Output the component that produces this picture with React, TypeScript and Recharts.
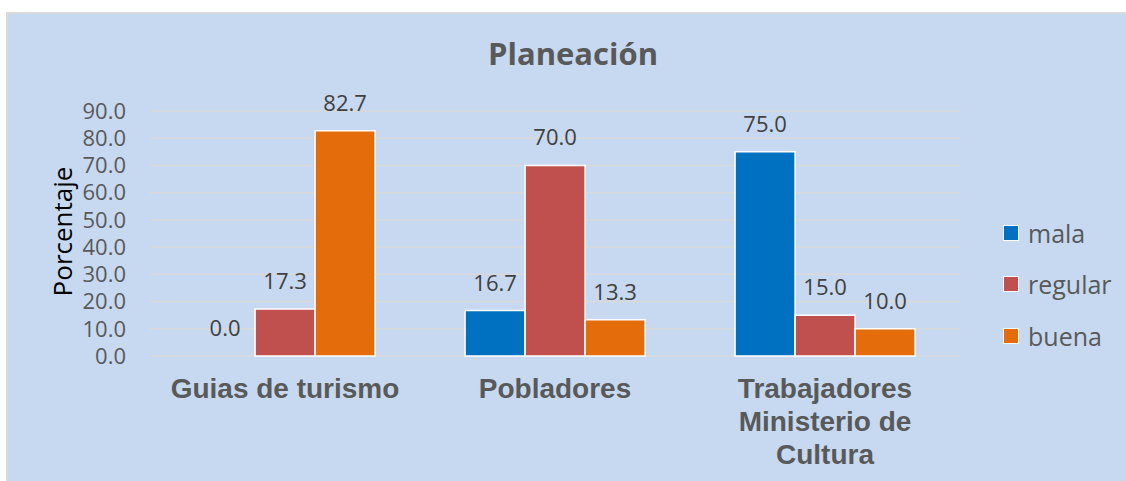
import React from 'react';
import { BarChart, Bar, XAxis, YAxis, CartesianGrid, Legend, LabelList, Cell } from 'recharts';

const CATEGORIES = ['Guias de turismo', 'Pobladores', 'Trabajadores Ministerio de Cultura'];
// how each category name breaks over lines under the axis
const CATEGORY_LINES = [['Guias de turismo'], ['Pobladores'], ['Trabajadores', 'Ministerio de', 'Cultura']];
const MALA = [0.0, 16.7, 75.0];
const REGULAR = [17.3, 70.0, 15.0];
const BUENA = [82.7, 13.3, 10.0];
const Y_TICKS = [0, 10, 20, 30, 40, 50, 60, 70, 80, 90];

const SERIES = [
  { key: 'mala', color: '#0070C0' },
  { key: 'regular', color: '#C0504D' },
  { key: 'buena', color: '#E46C0A' },
];

const data = CATEGORIES.map((name, i) => ({
  name,
  mala: MALA[i],
  regular: REGULAR[i],
  buena: BUENA[i],
}));

const GREY = '#595959';
const CALIBRI = '"Open Sans", sans-serif';

const CategoryTick = (props: any) => {
  const { x, y, payload } = props;
  const idx = CATEGORIES.indexOf(payload.value);
  const lines = idx >= 0 ? CATEGORY_LINES[idx] : [payload.value];
  return (
    <text
      x={x}
      y={y + 42}
      textAnchor="middle"
      fill={GREY}
      style={{ fontFamily: '"Liberation Sans", Arial, sans-serif', fontWeight: 'bold', fontSize: 28 }}
    >
      {lines.map((l: string, i: number) => (
        <tspan key={i} x={x} dy={i === 0 ? 0 : 33}>
          {l}
        </tspan>
      ))}
    </text>
  );
};

const renderLegend = () => (
  <div style={{ paddingLeft: 43 }}>
    {SERIES.map(s => (
      <div key={s.key} style={{ height: 51.5, display: 'flex', alignItems: 'center' }}>
        <span
          style={{
            width: 14,
            height: 14,
            background: s.color,
            border: '1.5px solid #fff',
            marginRight: 9,
            display: 'inline-block',
          }}
        />
        <span style={{ fontFamily: CALIBRI, fontSize: 25, color: GREY }}>{s.key}</span>
      </div>
    ))}
  </div>
);

const renderYLabel = (props: any) => {
  const vb = props.viewBox || {};
  const cy = vb.y + vb.height / 2 - 2;
  return (
    <text
      x={54}
      y={cy}
      transform={`rotate(-90, 54, ${cy})`}
      textAnchor="middle"
      dominantBaseline="central"
      fill="#000"
      style={{ fontFamily: CALIBRI, fontSize: 26 }}
    >
      Porcentaje
    </text>
  );
};

export default function App() {
  return (
    <div
      style={{
        position: 'absolute',
        left: 6,
        top: 12,
        width: 1120,
        height: 469,
        boxSizing: 'border-box',
        background: '#C6D9F0',
        borderLeft: '2px solid #D9D9D9',
        borderTop: '2px solid #D9D9D9',
      }}
    >
      <div
        style={{
          position: 'absolute',
          left: 0,
          top: 18,
          width: 1130,
          textAlign: 'center',
          fontFamily: CALIBRI,
          fontWeight: 'bold',
          fontSize: 31,
          color: GREY,
        }}
      >
        Planeación
      </div>
      <BarChart
        width={1118}
        height={467}
        data={data}
        margin={{ top: 97, right: 0, bottom: 0, left: 0 }}
        barCategoryGap="16.7%"
        barGap={0}
      >
        <CartesianGrid horizontal vertical={false} stroke="#D9D9D9" strokeWidth={1.5} />
        <XAxis
          dataKey="name"
          height={125}
          axisLine={false}
          tickLine={false}
          tickSize={0}
          tickMargin={0}
          interval={0}
          tick={CategoryTick}
        />
        <YAxis
          width={142}
          domain={[0, 90]}
          ticks={Y_TICKS}
          interval={0}
          axisLine={false}
          tickLine={false}
          tickSize={0}
          tickMargin={24}
          tickFormatter={(v: number) => v.toFixed(1)}
          tick={{ fill: GREY, fontSize: 22, fontFamily: CALIBRI }}
          label={{ content: renderYLabel }}
        />
        <Legend
          layout="vertical"
          align="right"
          verticalAlign="top"
          content={renderLegend}
          wrapperStyle={{ top: 193, left: 952, width: 166 }}
        />
        {SERIES.map(s => (
          <Bar
            key={s.key}
            dataKey={s.key}
            fill={s.color}
            stroke="#fff"
            strokeWidth={1.5}
            minPointSize={(v: number) => (v === 0 ? 0.01 : 0)}
            isAnimationActive={false}
          >
            {data.map((d: any, i: number) => (
              <Cell key={i} stroke={d[s.key] === 0 ? 'none' : '#fff'} />
            ))}
            <LabelList
              dataKey={s.key}
              position="top"
              offset={20}
              formatter={(v: any) => Number(v).toFixed(1)}
              style={{ fill: '#404040', fontSize: 22, fontFamily: CALIBRI }}
            />
          </Bar>
        ))}
      </BarChart>
    </div>
  );
}
